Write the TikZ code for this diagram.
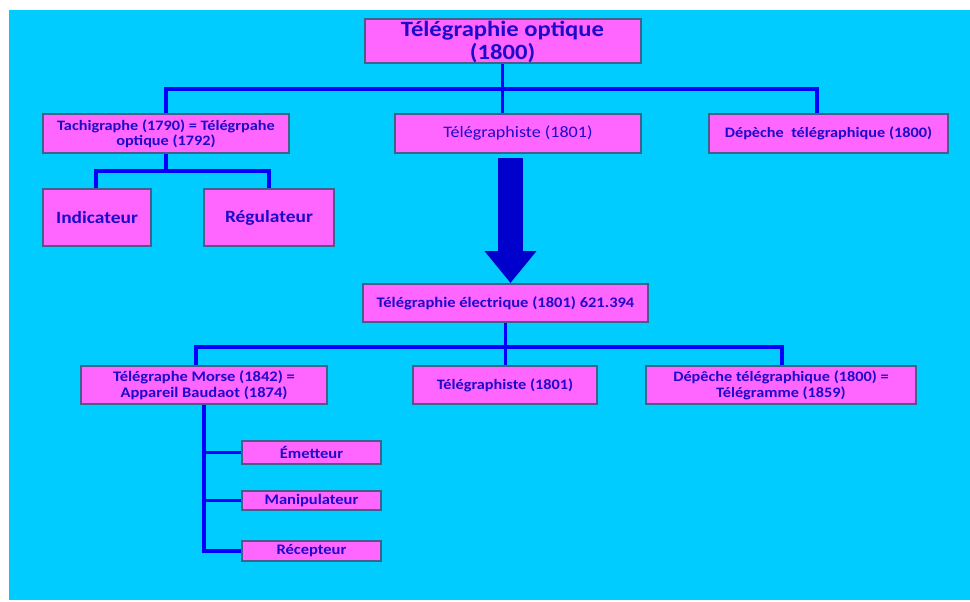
\documentclass[tikz,border=0pt]{standalone}
\usepackage{fontspec}
\setmainfont{Carlito}[FakeStretch=1.13]
\usetikzlibrary{arrows.meta}
\definecolor{bgcyan}{RGB}{0,204,255}
\definecolor{boxpink}{RGB}{255,102,255}
\definecolor{boxedge}{RGB}{66,96,140}
\definecolor{txtblue}{RGB}{30,10,200}
\definecolor{lineblue}{RGB}{0,0,255}
\definecolor{arrowblue}{RGB}{0,0,204}
\tikzset{
  box/.style={draw=boxedge, line width=2pt, fill=boxpink, text=txtblue,
    font=\bfseries, align=center, inner sep=0pt},
  conn/.style={draw=lineblue, line width=3.5pt},
}

\begin{document}
\begin{tikzpicture}[x=1pt,y=-1pt]

  \useasboundingbox (0,0) rectangle (970,602);
  \fill[bgcyan] (9,10) rectangle (970,600);

  % top level
  \node[box, minimum width=276, minimum height=44, font=\bfseries\fontsize{21.8}{23}\selectfont]
    (top) at (502.5,41.5) {Télégraphie optique\\(1800)};

  \node[box, minimum width=246, minimum height=39, font=\bfseries\fontsize{14.4}{15}\selectfont]
    (tachi) at (166,133.5) {Tachigraphe (1790) = Télégrpahe\\optique (1792)};
  \node[box, minimum width=246, minimum height=39, font=\fontsize{16}{17}\selectfont]
    (tphisteA) at (518,133.5) {Télégraphiste (1801)};
  \node[box, minimum width=239, minimum height=39, font=\bfseries\fontsize{14.4}{15}\selectfont]
    (depecheA) at (828.5,133.5) {Dépèche\ \ télégraphique (1800)};

  \node[box, minimum width=108, minimum height=57, font=\bfseries\fontsize{17.2}{18}\selectfont]
    (indic) at (97,217.5) {Indicateur};
  \node[box, minimum width=130, minimum height=57, font=\bfseries\fontsize{17.2}{18}\selectfont]
    (regul) at (269,217.5) {Régulateur};

  % electric level
  \node[box, minimum width=285, minimum height=38, font=\bfseries\fontsize{14.6}{15}\selectfont]
    (elec) at (505.5,303) {Télégraphie électrique (1801) 621.394};

  \node[box, minimum width=246, minimum height=38, font=\bfseries\fontsize{14.6}{16}\selectfont]
    (morse) at (204,385) {Télégraphe Morse (1842) =\\Appareil Baudaot (1874)};
  \node[box, minimum width=184, minimum height=38, font=\bfseries\fontsize{14.4}{15}\selectfont]
    (tphisteB) at (505,385) {Télégraphiste (1801)};
  \node[box, minimum width=270, minimum height=38, font=\bfseries\fontsize{14.4}{16}\selectfont]
    (depecheB) at (781,385) {Dépêche télégraphique (1800) =\\Télégramme (1859)};

  \node[box, minimum width=139, minimum height=23, font=\bfseries\fontsize{14.6}{15}\selectfont]
    (emet) at (311.5,452.5) {Émetteur};
  \node[box, minimum width=139, minimum height=19, font=\bfseries\fontsize{14.6}{15}\selectfont]
    (manip) at (311.5,500.5) {Manipulateur};
  \node[box, minimum width=139, minimum height=20, font=\bfseries\fontsize{14.6}{15}\selectfont]
    (recep) at (311.5,551) {Récepteur};

  % connectors
  \coordinate (busA) at (0,89);
  \coordinate (busB) at (0,171);
  \coordinate (busC) at (0,347);

  \draw[conn] (top.south) -- (top.south |- tphisteA.north);
  \draw[conn] (tachi.north) -- (tachi.north |- busA) -- (817,89) -- (depecheA.north -| 817,0);

  \draw[conn] (tachi.south) -- (tachi.south |- busB);
  \draw[conn] (indic.north -| 96,0) -- (96,171) -- (269,171) -- (regul.north);

  \draw[conn] (elec.south) -- (elec.south |- tphisteB.north);
  \draw[conn] (morse.north -| 196,0) -- (196,347) -- (782,347) -- (depecheB.north -| 782,0);

  \draw[conn] (morse.south) -- (morse.south |- recep.west) -- (recep.west);
  \draw[conn] (morse.south |- emet.west) -- (emet.west);
  \draw[conn] (morse.south |- manip.west) -- (manip.west);

  % big arrow
  \draw[arrowblue, line width=25pt, -{Triangle[width=50pt,length=32pt]}]
    (tphisteA.south -| 510.5,0) ++(0,4) -- (elec.north -| 510.5,0);

\end{tikzpicture}
\end{document}
